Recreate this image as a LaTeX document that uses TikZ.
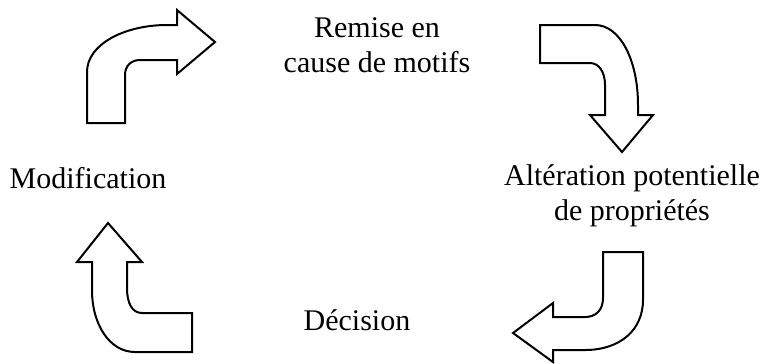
\documentclass[tikz,border=0pt]{standalone}
\usepackage{fontspec}
\setmainfont{Liberation Serif}

\begin{document}
\begin{tikzpicture}[x=0.4pt, y=-0.4pt, cycle_text/.style ={align=center, inner sep=0pt,
      font=\fontsize{12pt}{14pt}\selectfont},
      bent_arrow/.style ={draw=black, fill=white, line width=0.8pt, line join=miter}]
    \useasboundingbox (0,0) rectangle (761,363);
    % the four steps
    \node[cycle_text] (remise) at (377,45) {Remise en\\cause de motifs};
    \node[cycle_text] (alteration) at (632,196) {Altération potentielle\\de propriétés};
    \node[cycle_text] (decision) at (357,320) {Décision};
    \node[cycle_text] (modif) at (88,178) {Modification};
    % bent block arrows
    \draw[bent_arrow] (87,123) -- (87,72) .. controls (87,44) and (125,25) .. (167,25)
          -- (177,25) -- (177,10) -- (215,42) -- (177,74) -- (177,60) -- (140,60)
          .. controls (131,60) and (125,66) .. (125,75) -- (125,123) -- cycle;
    \draw[bent_arrow] (540,25) -- (595,25) .. controls (620,25) and (638,60) .. (638,105)
          -- (638,115) -- (653,115) -- (622,152) -- (590,115) -- (605,115) -- (605,85)
          .. controls (605,72) and (599,63) .. (590,63) -- (540,63) -- cycle;
    \draw[bent_arrow] (603,252) -- (643,252) -- (643,300) .. controls (643,330) and (620,350) .. (585,350)
          -- (553,350) -- (553,362) -- (513,333) -- (553,303) -- (553,317) -- (585,317)
          .. controls (596,317) and (603,310) .. (603,298) -- cycle;
    \draw[bent_arrow] (77,262) -- (108,223) -- (142,262) -- (127,262) -- (127,288)
          .. controls (127,303) and (132,313) .. (142,313) -- (192,313) -- (192,352) -- (135,352)
          .. controls (110,352) and (92,325) .. (92,290) -- (92,262) -- cycle;
\end{tikzpicture}
\end{document}
